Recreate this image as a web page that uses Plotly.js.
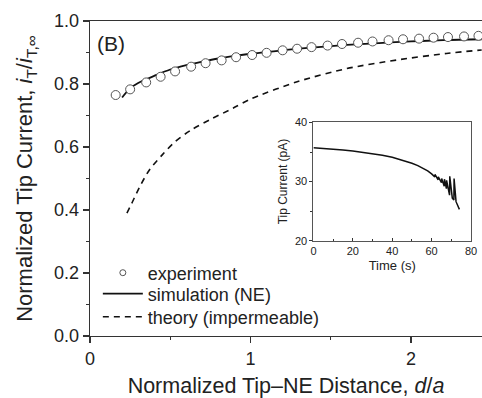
<!DOCTYPE html>
<html>
<head>
<meta charset="utf-8">
<script src="https://cdn.plot.ly/plotly-3.0.1.min.js"></script>
<style>html,body{margin:0;padding:0;background:#fff;}#chart{width:482px;height:398px;}</style>
</head>
<body>
<div id="chart"></div>
<script>
// Experiment (open circles)
const expD = [0.16,0.25,0.35,0.44,0.53,0.63,0.72,0.82,0.91,1.01,1.10,1.20,1.29,1.38,1.48,1.57,1.67,1.76,1.86,1.95,2.05,2.14,2.23,2.33,2.42];
const expI = [0.765,0.783,0.805,0.823,0.840,0.855,0.866,0.875,0.885,0.892,0.899,0.907,0.912,0.917,0.922,0.927,0.931,0.935,0.939,0.942,0.944,0.947,0.949,0.951,0.953];
// Simulation (NE) solid line
const simD = [0.20,0.25,0.30,0.35,0.40,0.50,0.60,0.70,0.80,0.90,1.00,1.20,1.40,1.60,1.80,2.00,2.20,2.44];
const simI = [0.757,0.786,0.803,0.815,0.826,0.846,0.860,0.871,0.881,0.889,0.896,0.907,0.916,0.924,0.930,0.935,0.939,0.942];
// Theory (impermeable) dashed line
const theoryD = [0.23,0.26,0.31,0.37,0.45,0.53,0.63,0.76,0.89,1.00,1.29,1.60,1.91,2.22,2.44];
const theoryI = [0.390,0.421,0.474,0.527,0.575,0.617,0.654,0.690,0.723,0.752,0.807,0.849,0.876,0.897,0.908];
// Inset: tip current vs time
const insetT = [0,5,10,15,20,25,30,35,40,45,50,53,56,58,60,61.6,61.7,63.3,63.4,65.0,65.1,66.4,66.5,67.5,67.6,69.1,69.2,70.5,71.3,71.4,72.4,73.0,74.1];
const insetI = [35.7,35.6,35.5,35.35,35.15,34.95,34.75,34.45,34.1,33.65,33.1,32.7,32.2,31.8,31.3,30.8,31.2,30.3,30.8,29.8,30.5,29.2,30.4,28.8,30.2,27.7,30.9,27.2,26.9,30.5,26.6,26.2,25.3];

const xTicks = [0,1,2];
const xTickText = ['0','1','2'];
const yTicks = [0,0.2,0.4,0.6,0.8,1.0];
const yTickText = ['0.0','0.2','0.4','0.6','0.8','1.0'];

const FONT = 'Liberation Sans, Arial, Helvetica, sans-serif';
const AX = '#333';

const traces = [
  {x: theoryD, y: theoryI, type:'scatter', mode:'lines', name:'theory (impermeable)', legend:'legend3',
   line:{color:'#111', width:1.6, dash:'6px,5px', shape:'spline', smoothing:0.8}},
  {x: simD, y: simI, type:'scatter', mode:'lines', name:'simulation (NE)', legend:'legend2',
   line:{color:'#111', width:1.8, shape:'spline'}},
  {x: expD, y: expI, type:'scatter', mode:'markers', name:'experiment', showlegend:false,
   marker:{symbol:'circle', size:9, color:'#fff', line:{color:'#555', width:1}}},
  // legend entry for the experiment series (smaller symbol as in the original legend)
  {x: [null], y: [null], type:'scatter', mode:'markers', name:'experiment', legend:'legend',
   marker:{symbol:'circle', size:6, color:'#fff', line:{color:'#555', width:1}}},
  {x: insetT, y: insetI, type:'scatter', mode:'lines', xaxis:'x2', yaxis:'y2', showlegend:false,
   line:{color:'#111', width:1.5}}
];

function leg(y) {
  return {x:0.02, y:y, xanchor:'left', yanchor:'middle', bgcolor:'rgba(0,0,0,0)',
          font:{size:18, family:FONT, color:'#222'}, itemwidth:40};
}

const layout = {
  width:482, height:398,
  margin:{l:90, r:0, t:21, b:62},
  paper_bgcolor:'#fff', plot_bgcolor:'#fff',
  font:{family:FONT, color:'#222'},
  showlegend:true,
  legend:leg(0.2),
  legend2:leg(0.1333),
  legend3:leg(0.0603),
  xaxis:{range:[0,2.442], tickvals:xTicks, ticktext:xTickText, ticks:'outside', ticklen:6, tickwidth:1.3,
         tickcolor:AX, showline:true, linecolor:AX, linewidth:1.4, mirror:true, showgrid:false, zeroline:false,
         tickfont:{size:18, family:FONT, color:'#222'}, automargin:false,
         minor:{dtick:0.5, ticks:'outside', ticklen:3, tickcolor:AX, tickwidth:1.2, showgrid:false},
         title:{text:'Normalized Tip\u2013NE Distance, <i>d</i>/<i>a</i>', font:{size:21.5, family:FONT, color:'#222'}, standoff:22}},
  yaxis:{range:[0,1], tickvals:yTicks, ticktext:yTickText, ticks:'outside', ticklen:6, tickwidth:1.3,
         tickcolor:AX, showline:true, linecolor:AX, linewidth:1.4, showgrid:false, zeroline:false,
         tickfont:{size:18, family:FONT, color:'#222'}, automargin:false,
         minor:{dtick:0.1, ticks:'outside', ticklen:3, tickcolor:AX, tickwidth:1.2, showgrid:false},
         title:{text:'Normalized Tip Current, <i>i</i><sub>T</sub>/<i>i</i><sub>T,\u221e</sub>', font:{size:22, family:FONT, color:'#222'}, standoff:15}},
  xaxis2:{domain:[0.570,0.972], anchor:'y2', range:[0,80], dtick:20, tick0:0, ticks:'inside', ticklen:3, tickwidth:1,
          tickcolor:AX, showline:true, linecolor:'#555', linewidth:1, mirror:true, showgrid:false, zeroline:false,
          tickfont:{size:11, family:FONT, color:'#222'},
          minor:{dtick:10, ticks:'inside', ticklen:2, tickcolor:AX, showgrid:false},
          title:{text:'Time (s)', font:{size:13, family:FONT, color:'#222'}, standoff:4}},
  yaxis2:{domain:[0.3025,0.678], anchor:'x2', range:[20,40], dtick:10, tick0:20, ticks:'outside', ticklen:3, tickwidth:1,
          tickcolor:AX, showline:true, linecolor:'#555', linewidth:1, mirror:true, showgrid:false, zeroline:false,
          tickfont:{size:11, family:FONT, color:'#222'},
          minor:{dtick:5, ticks:'outside', ticklen:2, tickcolor:AX, showgrid:false},
          title:{text:'Tip Current (pA)', font:{size:12, family:FONT, color:'#222'}, standoff:4}},
  annotations:[{text:'(B)', xref:'paper', yref:'paper', x:0.013, y:0.97, xanchor:'left', yanchor:'top',
                showarrow:false, font:{size:21, family:FONT, color:'#222'}}]
};

Plotly.newPlot('chart', traces, layout, {staticPlot:true, displayModeBar:false});
</script>
</body>
</html>
